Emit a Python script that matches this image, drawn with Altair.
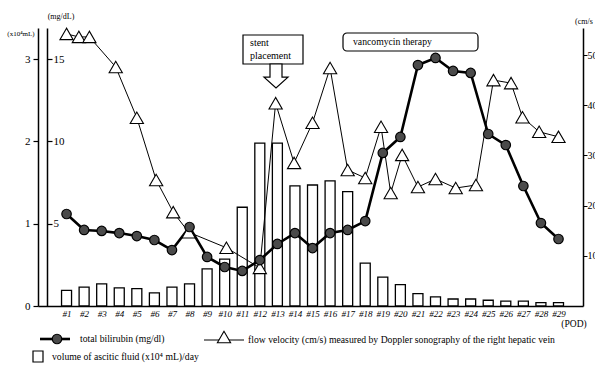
import altair as alt
import pandas as pd

# Post-operative days
days = list(range(1, 30))

# Volume of ascitic fluid (x10^4 mL/day), one bar per day
ascites_vol = [0.19, 0.23, 0.27, 0.22, 0.21, 0.16, 0.23, 0.27, 0.45, 0.57,
               1.20, 1.98, 1.98, 1.46, 1.47, 1.52, 1.39, 0.52, 0.35, 0.26,
               0.15, 0.11, 0.085, 0.085, 0.07, 0.06, 0.06, 0.04, 0.04]

# Total bilirubin (mg/dL), one value per day
bilirubin = [5.59, 4.62, 4.56, 4.43, 4.25, 4.01, 3.40, 4.80, 2.98, 2.37,
             2.13, 2.79, 3.77, 4.43, 3.52, 4.43, 4.62, 5.16, 9.30, 10.27,
             14.64, 15.07, 14.28, 14.16, 10.45, 9.78, 7.29, 5.04, 4.07]

# Flow velocity of the right hepatic vein (cm/s), measured at irregular times
vel_day = [1.0, 1.7, 2.3, 3.8, 5.0, 6.1, 7.07, 7.95, 10.1, 12.0,
           12.9, 13.95, 15.0, 16.0, 17.0, 18.0, 18.9, 19.45, 20.1, 21.0,
           22.0, 23.15, 24.3, 25.3, 26.3, 26.95, 27.9, 29.0]
velocity = [54.2, 53.6, 53.6, 47.6, 37.5, 25.1, 18.7, 14.7, 11.6, 7.6,
            40.4, 28.5, 36.5, 47.4, 27.1, 25.5, 35.7, 22.5, 30.1, 23.7,
            25.3, 23.5, 24.1, 45.0, 44.4, 37.6, 34.7, 33.7]

daily = pd.DataFrame({"day": days, "ascites": ascites_vol, "bili": bilirubin})
flow = pd.DataFrame({"day": vel_day, "vel": velocity})
one = pd.DataFrame({"k": [0]})

W, H = 545, 278
FONT = "Liberation Serif"
X_DOMAIN = [-0.34, 30.11]
VOL_MAX, MG_MAX, CM_MAX = 3.378, 16.89, 55.38

# Shared POD axis, repeated on every data layer so the merged axis keeps its labels
x_axis = alt.X(
    "day:Q",
    scale=alt.Scale(domain=X_DOMAIN, nice=False, zero=False),
    axis=alt.Axis(values=days, labelExpr="'#' + datum.value", title=None,
                  ticks=False, labelFont=FONT, labelFontStyle="italic",
                  labelFontSize=9, labelPadding=3, labelColor="black",
                  labelOverlap=False, labelFlush=False,
                  domainColor="black", domainWidth=1.5),
)

bars = alt.Chart(daily).mark_bar(size=10, fill="white", stroke="black", strokeWidth=1.3).encode(
    x=x_axis,
    y=alt.Y("ascites:Q", scale=alt.Scale(domain=[0, VOL_MAX], nice=False),
            axis=alt.Axis(orient="left", values=[0, 1, 2, 3], title=None, tickSize=5,
                          labelPadding=3, labelFont=FONT, labelFontSize=11,
                          labelColor="black", domainColor="black", domainWidth=1.5,
                          tickColor="black", tickWidth=1.2)),
)

bili_y = alt.Scale(domain=[0, MG_MAX], nice=False)
bili_line = alt.Chart(daily).mark_line(color="black", strokeWidth=2.6).encode(
    x=x_axis,
    y=alt.Y("bili:Q", scale=bili_y,
            axis=alt.Axis(orient="right", offset=-(W - 9), values=[5, 10, 15], title=None,
                          tickSize=5, labelPadding=1, labelFont=FONT, labelFontSize=11,
                          labelColor="black", domainColor="black", domainWidth=1.5,
                          tickColor="black", tickWidth=1.2)),
)
bili_pts = alt.Chart(daily).mark_point(shape="circle", filled=True, size=90, fill="#4a4a4a",
                                       stroke="black", strokeWidth=1.2, opacity=1).encode(
    x=x_axis, y=alt.Y("bili:Q", scale=bili_y, axis=None),
)

vel_y = alt.Scale(domain=[0, CM_MAX], nice=False)
vel_line = alt.Chart(flow).mark_line(color="black", strokeWidth=1).encode(
    x=x_axis,
    y=alt.Y("vel:Q", scale=vel_y,
            axis=alt.Axis(orient="right", values=[10, 20, 30, 40, 50], title=None,
                          tickSize=4, labelPadding=0, labelFont=FONT, labelFontSize=10,
                          labelColor="black", domainColor="black", domainWidth=1.5,
                          tickColor="black", tickWidth=1)),
)
vel_pts = alt.Chart(flow).mark_point(shape="triangle-up", filled=True, size=175, fill="white",
                                     stroke="black", strokeWidth=1.1, opacity=1).encode(
    x=x_axis, y=alt.Y("vel:Q", scale=vel_y, axis=None),
)


def label(text, x, y, size=9.7, align="left", style="normal"):
    return alt.Chart(one).mark_text(text=text, font=FONT, fontSize=size, align=align,
                                    baseline="middle", color="black", fontStyle=style).encode(
        x=alt.value(x), y=alt.value(y))


def box(x1, y1, x2, y2, radius=0):
    return alt.Chart(one).mark_rect(fill="white", stroke="black", strokeWidth=1.2,
                                    cornerRadius=radius).encode(
        x=alt.value(x1), x2=alt.value(x2), y=alt.value(y1), y2=alt.value(y2))


# Hollow downward arrow under the stent-placement note
arrow_path = "M-0.5,-1 L0.5,-1 L0.5,0.1 L1,0.1 L0,1 L-1,0.1 L-0.5,0.1 Z"
stent_arrow = alt.Chart(one).mark_point(shape=arrow_path, size=576, filled=True, fill="white",
                                        stroke="black", strokeWidth=1.2, opacity=1).encode(
    x=alt.value(238), y=alt.value(48))

# Legend pieces
leg_line1 = alt.Chart(one).mark_rule(color="black", strokeWidth=2.6).encode(
    x=alt.value(2), x2=alt.value(32), y=alt.value(311))
leg_circle = alt.Chart(one).mark_point(shape="circle", filled=True, size=90, fill="#4a4a4a",
                                       stroke="black", strokeWidth=1.2, opacity=1).encode(
    x=alt.value(19), y=alt.value(311))
leg_line2 = alt.Chart(one).mark_rule(color="black", strokeWidth=1).encode(
    x=alt.value(166), x2=alt.value(206), y=alt.value(312))
leg_tri = alt.Chart(one).mark_point(shape="triangle-up", filled=True, size=175, fill="white",
                                    stroke="black", strokeWidth=1.1, opacity=1).encode(
    x=alt.value(186), y=alt.value(309))
leg_square = box(-5, 323, 5, 334)

chart = alt.layer(
    bars, bili_line, vel_line, vel_pts, bili_pts,
    box(205, 7, 265, 36), label("stent", 212, 15, size=10), label("placement", 212, 28, size=10),
    stent_arrow,
    box(305, 5, 440, 23, radius=4), label("vancomycin therapy", 315, 14),
    label("(mg/dL)", 23, -11, size=8, align="center"),
    label("(x10\u2074mL)", -17, 6, size=7, align="center"),
    label("(cm/s", 537, -6, size=8),
    label("(POD)", 536, 296, size=9.5, align="center"),
    leg_line1, leg_circle, label("total bilirubin (mg/dl)", 42, 311),
    leg_line2, leg_tri,
    label("flow velocity (cm/s) measured by Doppler sonography of the right hepatic vein", 210, 312),
    leg_square, label("volume of ascitic fluid (x10\u2074 mL)/day", 14, 329),
).resolve_scale(y="independent").properties(
    width=W, height=H,
    autosize=alt.AutoSizeParams(type="none"),
    padding={"left": 38, "top": 28, "right": 12, "bottom": 61},
).configure_view(stroke=None).configure_axis(grid=False)

chart.save("out.html", embed_options={"renderer": "svg", "actions": False})
